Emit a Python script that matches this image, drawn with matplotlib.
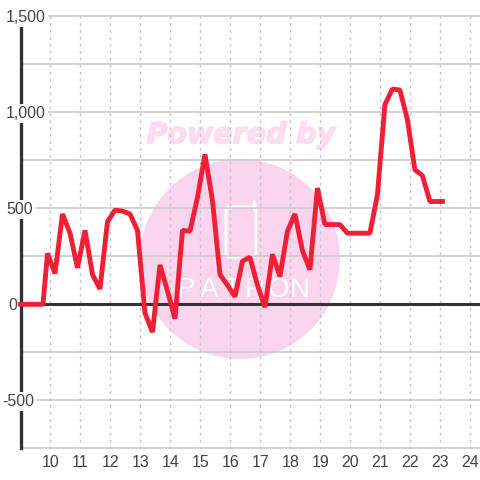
import matplotlib
matplotlib.use('Agg')
import matplotlib.pyplot as plt
import matplotlib.patheffects as pe
from matplotlib.patches import Circle, FancyBboxPatch

# hours on x
hours = [8.92, 9.75, 9.9, 10.15, 10.4, 10.65, 10.9, 11.15, 11.4, 11.65, 11.9,
         12.15, 12.4, 12.65, 12.9, 13.15, 13.4, 13.65, 13.9, 14.15, 14.4,
         14.65, 14.9, 15.15, 15.4, 15.65, 15.9, 16.15, 16.4, 16.65, 16.9,
         17.15, 17.4, 17.65, 17.9, 18.15, 18.4, 18.65, 18.9, 19.15, 19.4,
         19.65, 19.9, 20.15, 20.4, 20.65, 20.9, 21.15, 21.4, 21.65, 21.9,
         22.15, 22.4, 22.65, 22.9, 23.15]
values = [0, 0, 265, 160, 470, 370, 190, 385, 155, 80, 430,
          490, 485, 470, 385, -45, -145, 205, 70, -75, 385,
          380, 555, 780, 540, 155, 100, 40, 225, 245, 100,
          -15, 260, 145, 380, 470, 280, 180, 605, 415, 415,
          415, 370, 370, 370, 370, 570, 1040, 1120, 1115, 960,
          700, 670, 535, 535, 535]

x_ticks = list(range(10, 25))
y_major = [-500, 0, 500, 1000, 1500]
y_minor = [-750, -250, 250, 750, 1250]
y_labels = ['-500', '0', '500', '1,000', '1,500']
y_label_px = [18.5, 12, 14.5, 14.5, 14.5]
logo_letters = ['P', 'A', 'T', 'R', 'O', 'N']
logo_px = [186, 209, 232, 255, 278, 300]

plt.rcParams['font.family'] = ['Liberation Sans', 'DejaVu Sans']

fig = plt.figure(figsize=(4.8, 4.8), dpi=100)
ax = fig.add_axes([20.5 / 480, 1 - 448.5 / 480, 459.5 / 480, 432.5 / 480])
ax.set_xlim(9.0, 24.32)
ax.set_ylim(-750, 1500)
ax.patch.set_visible(False)

for s in ['top', 'right', 'bottom']:
    ax.spines[s].set_visible(False)
ax.spines['left'].set_linewidth(2.4)
ax.spines['left'].set_color('#333333')

ax.set_xticks(x_ticks)
ax.set_yticks(y_major)
ax.set_yticklabels([])
ax.tick_params(axis='both', length=0, labelsize=11.5, colors='#444444')
ax.tick_params(axis='x', pad=5)

# y labels sit on the axis line with a white box behind them
for v, lab, off in zip(y_major, y_labels, y_label_px):
    ax.text(-off / 459.5, v - 6, lab, transform=ax.get_yaxis_transform(), ha='left', va='center',
            fontsize=11.5, color='#444444', zorder=4, clip_on=False,
            bbox=dict(facecolor='white', edgecolor='none', pad=1.5))

ax.grid(True, axis='x', color='#c4c4c4', linewidth=1, linestyle=(0, (2, 3)))
for v in y_major + y_minor:
    if v != 0:
        ax.axhline(v, color='#c8c8c8', linewidth=1.1, zorder=1, clip_on=False)
ax.axhline(0, color='#333333', linewidth=2.2, zorder=3)

# watermark, in figure pixels
wm = fig.add_axes([0, 0, 1, 1], zorder=-1)
wm.set_xlim(0, 480)
wm.set_ylim(480, 0)
wm.axis('off')
wm.add_patch(Circle((240, 259), 100, facecolor='#fbd5ee', edgecolor='none'))
wm.text(241, 135, 'Powered by', color='#fcdcf0', fontsize=20.5, fontweight='bold',
        fontstyle='italic', ha='center', va='center', family=['DejaVu Sans'],
        path_effects=[pe.withStroke(linewidth=1.2, foreground='#fcdcf0')])
wm.add_patch(FancyBboxPatch((226, 207), 30, 50, boxstyle='round,pad=0,rounding_size=3',
                            facecolor='none', edgecolor='white', linewidth=2))
wm.plot([253.5, 253.5], [201, 208], color='white', linewidth=2.4, solid_capstyle='round')
for letter, px in zip(logo_letters, logo_px):
    wm.text(px, 290, letter, color='white', fontsize=20, ha='center', va='center',
            family=['Liberation Sans'])

ax.plot(hours, values, color='#f01f35', linewidth=3.5, solid_joinstyle='bevel',
        solid_capstyle='butt', zorder=5, clip_on=False)

fig.savefig('out.png', dpi=100, facecolor='white')
